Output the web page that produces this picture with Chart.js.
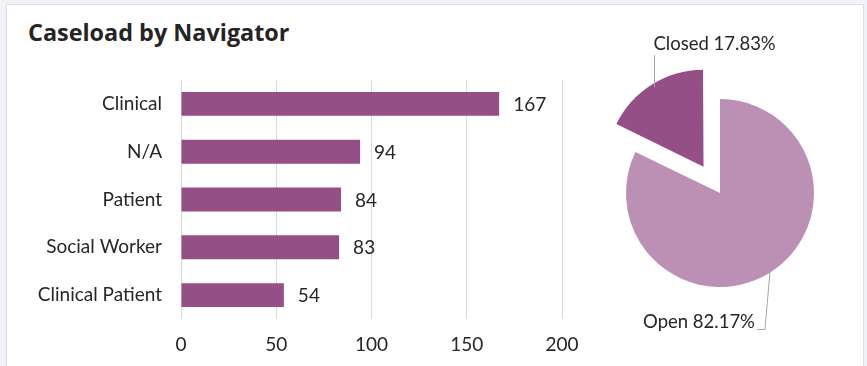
<!DOCTYPE html>
<html>
<head>
<meta charset="utf-8">
<script src="https://cdn.jsdelivr.net/npm/chart.js@4.4.1/dist/chart.umd.min.js"></script>
<style>
  html, body { margin: 0; padding: 0; }
  body { width: 867px; height: 366px; background: #f1f2f7; position: relative; overflow: hidden; font-family: Lato, "Open Sans", sans-serif; }
  #panel { position: absolute; left: 6px; top: 4px; width: 856px; height: 380px; background: #ffffff; border: 1px solid #dedee2; }
  #title { position: absolute; left: 28px; top: 17px; font-family: "Open Sans", sans-serif; font-weight: bold; font-size: 23.4px; line-height: 30px; color: #252423; white-space: nowrap; }
  #barWrap { position: absolute; left: 0; top: 0; width: 600px; height: 366px; }
  #pieWrap { position: absolute; left: 600px; top: 0; width: 267px; height: 366px; }
</style>
</head>
<body>
<div id="panel"></div>
<div id="title">Caseload by Navigator</div>
<div id="barWrap"><canvas id="bar" width="600" height="366"></canvas></div>
<div id="pieWrap"><canvas id="pie" width="267" height="366"></canvas></div>
<script>
// ---- data ----
const navigators = ["Clinical", "N/A", "Patient", "Social Worker", "Clinical Patient"];
const caseloads = [167, 94, 84, 83, 54];
const xTicks = [0, 50, 100, 150, 200];
const statusLabels = ["Open", "Closed"];
const statusShares = [82.17, 17.83];

const BAR_COLOR = "#934f86";
const PIE_COLORS = ["#bc8fb5", "#934f86"];
const TEXT = "#262626";
const FONT = "Lato, 'Open Sans', sans-serif";

// value labels for bars
const barValuePlugin = {
  id: "barValues",
  afterDatasetsDraw(chart) {
    const ctx = chart.ctx;
    const meta = chart.getDatasetMeta(0);
    ctx.save();
    ctx.font = "19px " + FONT;
    ctx.fillStyle = TEXT;
    ctx.textAlign = "left";
    ctx.textBaseline = "middle";
    meta.data.forEach((el, i) => {
      ctx.fillText(String(chart.data.datasets[0].data[i]), el.x + 14, el.y + 1);
    });
    ctx.restore();
  }
};

new Chart(document.getElementById("bar"), {
  type: "bar",
  data: {
    labels: navigators,
    datasets: [{
      data: caseloads,
      backgroundColor: BAR_COLOR,
      borderWidth: 0,
      categoryPercentage: 1.0,
      barPercentage: 0.5
    }]
  },
  options: {
    indexAxis: "y",
    responsive: false,
    animation: false,
    events: [],
    layout: { padding: { left: 0, top: 80, right: 38, bottom: 7 } },
    plugins: { legend: { display: false }, tooltip: { enabled: false } },
    scales: {
      x: {
        min: xTicks[0],
        max: xTicks[xTicks.length - 1],
        afterBuildTicks(scale) { scale.ticks = xTicks.map(v => ({ value: v })); },
        afterFit(scale) { scale.height = 40; },
        grid: { color: "#d9d9d9", lineWidth: 1, drawTicks: false },
        border: { display: false },
        ticks: { padding: 14, color: TEXT, font: { family: FONT, size: 19 } }
      },
      y: {
        afterFit(scale) { scale.width = 181; },
        grid: { display: false, drawTicks: false },
        border: { display: false },
        ticks: { padding: 19, color: TEXT, font: { family: FONT, size: 19 } }
      }
    }
  },
  plugins: [barValuePlugin]
});

// pie labels with leader lines
const pieLabelPlugin = {
  id: "pieLabels",
  afterDatasetsDraw(chart) {
    const ctx = chart.ctx;
    const meta = chart.getDatasetMeta(0);
    const ds = chart.data.datasets[0];
    ctx.save();
    ctx.font = "18.5px " + FONT;
    ctx.fillStyle = TEXT;
    ctx.strokeStyle = "#a6a6a6";
    ctx.lineWidth = 1;
    meta.data.forEach((el, i) => {
      const p = el.getProps(["x", "y", "startAngle", "endAngle", "outerRadius"], true);
      const mid = (p.startAngle + p.endAngle) / 2;
      // Chart.js arc elements translate by offset / 4
      const off = ((ds.offset && ds.offset[i]) || 0) / 4;
      const cx = p.x + Math.cos(mid) * off;
      const cy = p.y + Math.sin(mid) * off;
      const ax = cx + Math.cos(mid) * p.outerRadius;
      const ay = cy + Math.sin(mid) * p.outerRadius;
      const text = chart.data.labels[i] + " " + ds.data[i].toFixed(2) + "%";
      ctx.beginPath();
      if (ay < cy) {
        const lx = Math.round(ax) + 0.5;
        ctx.moveTo(lx, ay);
        ctx.lineTo(lx, ay - 32);
        ctx.stroke();
        ctx.textAlign = "left";
        ctx.textBaseline = "alphabetic";
        ctx.fillText(text, lx - 1, ay - 37);
      } else {
        const ey = Math.round(ay + 56) + 0.5;
        ctx.moveTo(ax, ay);
        ctx.lineTo(ax - 5, ey);
        ctx.lineTo(ax - 13, ey);
        ctx.stroke();
        ctx.textAlign = "right";
        ctx.textBaseline = "alphabetic";
        ctx.fillText(text, ax - 15, ey - 2);
      }
    });
    ctx.restore();
  }
};

new Chart(document.getElementById("pie"), {
  type: "pie",
  data: {
    labels: statusLabels,
    datasets: [{
      data: statusShares,
      backgroundColor: PIE_COLORS,
      borderWidth: 0,
      offset: [0, 124],
      clip: false
    }]
  },
  options: {
    responsive: false,
    animation: false,
    events: [],
    radius: 94,
    layout: { padding: { left: 20, right: 47, top: 93, bottom: 73 } },
    plugins: { legend: { display: false }, tooltip: { enabled: false } }
  },
  plugins: [pieLabelPlugin]
});
</script>
</body>
</html>
